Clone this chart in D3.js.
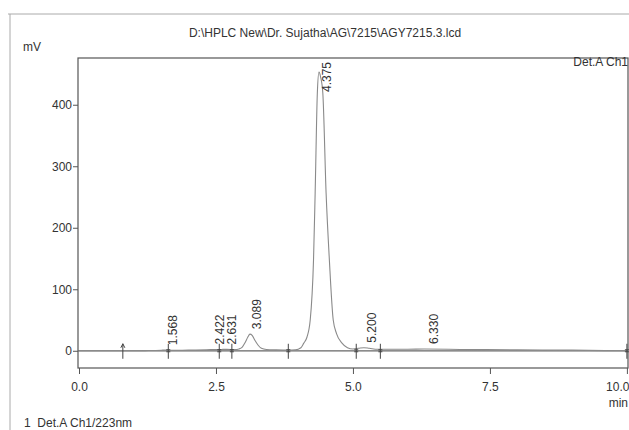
<!DOCTYPE html>
<html>
<head>
<meta charset="utf-8">
<script src="https://cdn.jsdelivr.net/npm/d3@7"></script>
<style>
  body { margin: 0; background: #fff; }
  svg { display: block; }
  text { font-family: "Liberation Sans", Arial, sans-serif; fill: #333; }
</style>
</head>
<body>
<div id="chart"></div>
<script>
// chromatogram trace (min, mV)
var traceTime = [0.0, 0.5, 0.8, 1.2, 1.5, 1.57, 1.65, 2.0, 2.4, 2.45, 2.6, 2.7, 2.85, 2.92, 2.98,
                 3.03, 3.08, 3.12, 3.16, 3.21, 3.27, 3.33, 3.42, 3.6, 3.82, 3.95, 4.05, 4.10, 4.16,
                 4.22, 4.28, 4.31, 4.35, 4.38, 4.41, 4.45, 4.51, 4.57, 4.64, 4.70, 4.80, 4.90, 5.0,
                 5.1, 5.2, 5.3, 5.45, 5.6, 6.0, 6.3, 7.0, 8.0, 9.0, 9.6, 10.0];
var traceMv   = [0, 0, 0, 0.3, 0.8, 1.2, 0.8, 1, 1.8, 2, 2.2, 2.3, 2, 3, 6,
                 13, 22, 27, 25, 17, 9, 4, 2, 1.5, 1.2, 1.5, 5, 12, 22,
                 50, 147, 256, 419, 453, 445, 419, 256, 147, 50, 28, 12.5, 5, 3,
                 4, 5, 4, 2.5, 2.5, 2.5, 2.8, 2.2, 1.5, 1, 0.3, 0];

// peak labels (retention time) and the height the label sits on
var peakTimes   = [1.568, 2.422, 2.631, 3.089, 4.375, 5.200, 6.330];
var peakHeights = [1, 2, 2, 27, 453, 5, 3];

// integration start / end marks on the baseline
var markTimes = [0.80, 1.63, 2.56, 2.79, 3.82, 5.06, 5.50, 10.0];

var yMajor = [0, 100, 200, 300, 400];
var yMinor = d3.range(-20, 461, 20);
var xMajor = [0, 2.5, 5, 7.5, 10];
var xMinor = d3.range(0, 10.01, 0.5);

var titleText = "D:\\HPLC New\\Dr. Sujatha\\AG\\7215\\AGY7215.3.lcd";

function draw_chart()
{
  var width = 629, height = 430;
  var left = 78, right = 628, top = 58, bottom = 368;
  var axis_color = "#555";

  var svg = d3.select("#chart").append("svg")
      .attr("width", width)
      .attr("height", height);

  var x = d3.scaleLinear().domain([0, 10.02]).range([79, right]);
  var y = d3.scaleLinear().domain([-28, 476]).range([bottom, top]);

  // scanned page border
  svg.append("path")
      .attr("d", "M8,14H" + width + "M10,14V" + height)
      .attr("fill", "none")
      .attr("stroke", "#aaa")
      .attr("stroke-width", 1);

  // frame
  svg.append("rect")
      .attr("x", left).attr("y", top)
      .attr("width", right - left).attr("height", bottom - top)
      .attr("fill", "none")
      .attr("stroke", axis_color)
      .attr("stroke-width", 1.2);

  // y axis
  var ya = svg.append("g").attr("transform", "translate(" + left + ",0)");
  ya.call(d3.axisLeft(y).tickValues(yMinor).tickSize(3).tickFormat(""));
  ya.call(d3.axisLeft(y).tickValues(yMajor).tickSize(5).tickPadding(1));
  ya.select(".domain").remove();
  ya.selectAll("line").attr("stroke", axis_color);
  ya.selectAll("text").attr("font-size", 12).attr("fill", "#333");

  // x axis
  var xa = svg.append("g").attr("transform", "translate(0," + bottom + ")");
  xa.call(d3.axisBottom(x).tickValues(xMinor).tickSize(4).tickFormat(""));
  xa.call(d3.axisBottom(x).tickValues(xMajor).tickSize(6).tickPadding(8).tickFormat(d3.format(".1f")));
  xa.select(".domain").remove();
  xa.selectAll("line").attr("stroke", axis_color);
  xa.selectAll("text").attr("font-size", 12).attr("fill", "#333");
  // last label sits against the page edge
  xa.selectAll("text").filter(function(d) { return d == 10; })
      .attr("text-anchor", "end")
      .attr("x", 2);

  // baseline
  svg.append("line")
      .attr("x1", left).attr("x2", right)
      .attr("y1", y(0)).attr("y2", y(0))
      .attr("stroke", "#666")
      .attr("stroke-width", 1.2);

  // signal
  var line = d3.line()
      .x(function(d, i) { return x(traceTime[i]); })
      .y(function(d) { return y(d); })
      .curve(d3.curveMonotoneX);

  svg.append("path")
      .datum(traceMv)
      .attr("d", line)
      .attr("fill", "none")
      .attr("stroke", "#8a8a8a")
      .attr("stroke-width", 1.1);

  // peak start/end marks
  var marks = svg.selectAll(".mark")
      .data(markTimes)
    .enter().append("g")
      .attr("class", "mark")
      .attr("transform", function(d) { return "translate(" + x(d) + "," + y(0) + ")"; });

  marks.append("line")
      .attr("y1", -7).attr("y2", 8)
      .attr("stroke", "#444")
      .attr("stroke-width", 1);
  marks.append("path")
      .attr("d", function(d, i) { return i == 0 ? "M-2,-3L0,-7L2,-3" : "M-2,-1H2M-2,1H2"; })
      .attr("fill", "none")
      .attr("stroke", "#444")
      .attr("stroke-width", 1);

  // retention time labels, rotated
  svg.selectAll(".peak")
      .data(peakTimes)
    .enter().append("text")
      .attr("class", "peak")
      .attr("font-size", 12)
      .attr("text-anchor", "start")
      .text(function(d) { return d3.format(".3f")(d); })
      .attr("transform", function(d, i) {
        var len = this.getComputedTextLength();
        var yy = Math.max(y(peakHeights[i]) - 5, top + 4 + len);
        return "translate(" + (x(d) + 12.5) + "," + yy + ")rotate(-90)";
      });

  // texts
  svg.append("text")
      .attr("x", 325).attr("y", 37)
      .attr("text-anchor", "middle")
      .attr("font-size", 12)
      .text(titleText);

  svg.append("text")
      .attr("x", 23).attr("y", 51)
      .attr("font-size", 12)
      .text("mV");

  svg.append("text")
      .attr("x", 628).attr("y", 66)
      .attr("text-anchor", "end")
      .attr("font-size", 12)
      .text("Det.A Ch1");

  svg.append("text")
      .attr("x", 628).attr("y", 407)
      .attr("text-anchor", "end")
      .attr("font-size", 12)
      .text("min");

  svg.append("text")
      .attr("x", 24).attr("y", 427)
      .attr("font-size", 12)
      .attr("xml:space", "preserve")
      .text("1  Det.A Ch1/223nm");
}
draw_chart();
</script>
</body>
</html>
